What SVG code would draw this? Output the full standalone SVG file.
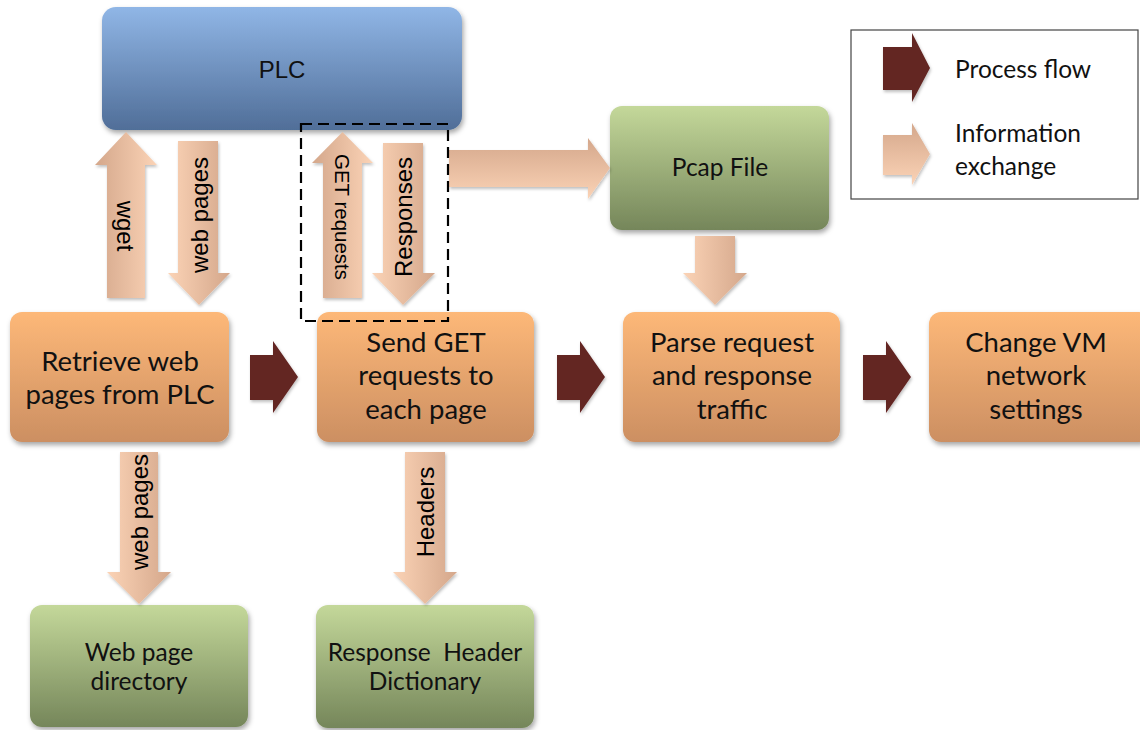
<svg xmlns="http://www.w3.org/2000/svg" width="1140" height="730" viewBox="0 0 1140 730">
<defs>
<linearGradient id="gBlue" x1="0" y1="0" x2="0" y2="1"><stop offset="0" stop-color="#90b6e6"/><stop offset="1" stop-color="#506e98"/></linearGradient>
<linearGradient id="gOrange" x1="0" y1="0" x2="0" y2="1"><stop offset="0" stop-color="#fdb878"/><stop offset="1" stop-color="#cc8f62"/></linearGradient>
<linearGradient id="gGreen" x1="0" y1="0" x2="0" y2="1"><stop offset="0" stop-color="#c4d89a"/><stop offset="1" stop-color="#75865a"/></linearGradient>
<linearGradient id="pDown" x1="0" y1="0" x2="1" y2="0"><stop offset="0" stop-color="#fbd3b6"/><stop offset="1" stop-color="#d4a78b"/></linearGradient>
<linearGradient id="pUp" x1="0" y1="0" x2="1" y2="0"><stop offset="0" stop-color="#d4a78b"/><stop offset="1" stop-color="#fbd3b6"/></linearGradient>
<linearGradient id="pRight" x1="0" y1="0" x2="0" y2="1"><stop offset="0" stop-color="#d4a78b"/><stop offset="1" stop-color="#fbd3b6"/></linearGradient>
<filter id="sh" x="-10%" y="-10%" width="125%" height="130%"><feDropShadow dx="1.5" dy="3" stdDeviation="2.5" flood-color="#000" flood-opacity="0.35"/></filter>
<filter id="shA" x="-20%" y="-20%" width="140%" height="140%"><feDropShadow dx="1" dy="2" stdDeviation="1.5" flood-color="#000" flood-opacity="0.25"/></filter>
<style>
.box{stroke:none;filter:url(#sh)}
.t1{font-family:Lato,"Liberation Sans",sans-serif;font-size:27.5px;fill:#111;text-anchor:middle}
.t2{font-family:Lato,"Liberation Sans",sans-serif;font-size:24.5px;fill:#111;text-anchor:middle}
.tl{font-family:Lato,"Liberation Sans",sans-serif;font-size:24.5px;fill:#111}
.ta{font-family:"Liberation Sans",Arial,sans-serif;font-size:24px;fill:#000;text-anchor:middle;dominant-baseline:central}
.dark{fill:#632523;filter:url(#shA)}
.pd{fill:url(#pDown);filter:url(#shA)}
.pu{fill:url(#pUp);filter:url(#shA)}
.pr{fill:url(#pRight);filter:url(#shA)}
</style>
</defs>
<rect width="1140" height="730" fill="#fff"/>

<g id="plc">
<rect class="box" x="102" y="7" width="360" height="123" rx="14" fill="url(#gBlue)"/>
<text x="282" y="78" style="font-family:'Liberation Sans',Arial,sans-serif;font-size:24px;fill:#111;text-anchor:middle">PLC</text>
</g>

<g id="pcap">
<rect class="box" x="610" y="106" width="219" height="124" rx="12" fill="url(#gGreen)"/>
<text class="t2" x="720" y="176">Pcap File</text>
</g>

<g id="retrieve">
<rect class="box" x="10" y="312" width="219" height="130" rx="12" fill="url(#gOrange)"/>
<text class="t1" x="120" y="371">Retrieve web</text>
<text class="t1" x="120" y="404">pages from PLC</text>
</g>

<g id="send">
<rect class="box" x="317" y="312" width="217" height="130" rx="12" fill="url(#gOrange)"/>
<text class="t1" x="426" y="352">Send GET</text>
<text class="t1" x="426" y="385">requests to</text>
<text class="t1" x="426" y="419">each page</text>
</g>

<g id="parse">
<rect class="box" x="623" y="312" width="217" height="130" rx="12" fill="url(#gOrange)"/>
<text class="t1" x="732" y="352">Parse request</text>
<text class="t1" x="732" y="385">and response</text>
<text class="t1" x="732" y="419">traffic</text>
</g>

<g id="change">
<rect class="box" x="929" y="312" width="222" height="130" rx="12" fill="url(#gOrange)"/>
<text class="t1" x="1036" y="352">Change VM</text>
<text class="t1" x="1036" y="385">network</text>
<text class="t1" x="1036" y="419">settings</text>
</g>

<g id="webdir">
<rect class="box" x="30" y="605" width="218" height="122" rx="12" fill="url(#gGreen)"/>
<text class="t2" x="139" y="661">Web page</text>
<text class="t2" x="139" y="690">directory</text>
</g>

<g id="respdict">
<rect class="box" x="316" y="605" width="218" height="123" rx="12" fill="url(#gGreen)"/>
<text class="t2" x="425" y="661" xml:space="preserve">Response  Header</text>
<text class="t2" x="425" y="690">Dictionary</text>
</g>

<g id="connectors">
<polygon class="pu" points="107,298 145,298 145,165 157,165 126,132 95,165 107,165"/>
<text class="ta" transform="translate(125,226) rotate(90)">wget</text>
<polygon class="pd" points="178,141 218,141 218,273 230,273 199,305 168,273 178,273"/>
<text class="ta" transform="translate(199,215) rotate(-90)">web pages</text>
<polygon class="pu" points="323,298 362,298 362,163 373,163 342.5,132 312,163 323,163"/>
<text class="ta" style="font-size:20.5px" transform="translate(342,217) rotate(90)">GET requests</text>
<polygon class="pd" points="383,143 423,143 423,273 435,273 403,305 372,273 383,273"/>
<text class="ta" transform="translate(403,217) rotate(-90)">Responses</text>
<polygon class="pr" points="449,150 588,150 588,138 610,168 588,199 588,187 449,187"/>
<polygon class="pd" points="695,236 735,236 735,273 747,273 715,305 683,273 695,273"/>
<polygon class="pd" points="120,452 158,452 158,572 171,572 139,604 107,572 120,572"/>
<text class="ta" transform="translate(139,512) rotate(-90)">web pages</text>
<polygon class="pd" points="405,452 445,452 445,572 457,572 425,604 393,572 405,572"/>
<text class="ta" transform="translate(425,512) rotate(-90)">Headers</text>
<polygon class="dark" points="250,355 273,355 273,341 298,377 273,413 273,400 250,400"/>
<polygon class="dark" points="557,355 580,355 580,341 605,377 580,413 580,400 557,400"/>
<polygon class="dark" points="863,355 886,355 886,341 911,377 886,413 886,400 863,400"/>
<rect x="301" y="124" width="147" height="197" fill="none" stroke="#000" stroke-width="2.2" stroke-dasharray="11 6"/>
</g>

<g id="legend">
<rect x="851" y="30" width="287" height="169" fill="#fff" stroke="#444" stroke-width="1.2"/>
<polygon class="dark" points="883,47 912,47 912,33 930,68 912,102 912,90 883,90"/>
<text class="tl" x="955" y="78">Process flow</text>
<polygon class="pr" points="883,135 912,135 912,123 930,154 912,185 912,175 883,175"/>
<text class="tl" x="955" y="142">Information</text>
<text class="tl" x="955" y="175">exchange</text>
</g>
</svg>
